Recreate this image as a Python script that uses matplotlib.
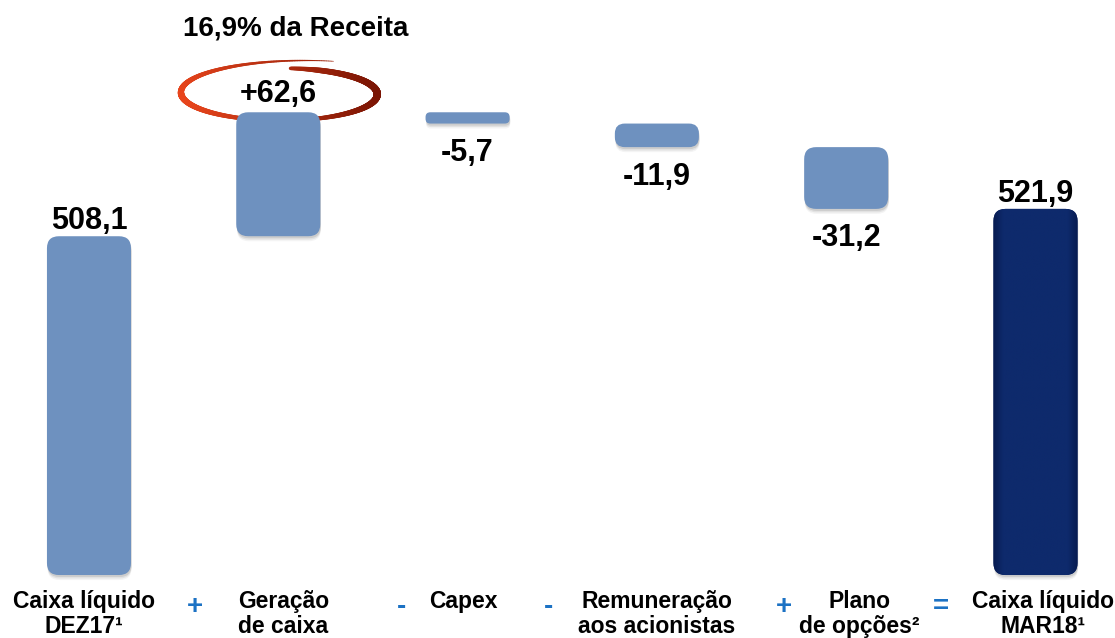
import numpy as np
import matplotlib
matplotlib.use("Agg")
import matplotlib.pyplot as plt
from matplotlib.patches import FancyBboxPatch
from matplotlib.collections import LineCollection
from matplotlib import transforms as mtrans

# ---------------- data ----------------
categories = ["Caixa líquido\nDEZ17¹", "Geração\nde caixa", "Capex",
              "Remuneração\naos acionistas", "Plano\nde opções²", "Caixa líquido\nMAR18¹"]
values = [508.1, 62.6, -5.7, -11.9, -31.2, 521.9]
value_labels = ["508,1", "+62,6", "-5,7", "-11,9", "-31,2", "521,9"]
kinds = ["total", "delta", "delta", "delta", "delta", "total"]
operators = ["+", "-", "-", "+", "="]
highlight_text = "16,9% da Receita"

# ---------------- layout / style ----------------
BASE = 337.0                      # broken value axis: bars start here
YLIM = (305.2, 627.4)
XLIM = (-0.47, 5.42)
BAR_W = 0.444
OP_X = [0.56, 1.65, 2.43, 3.67, 4.50]
LABEL_DX_PX = [-5, 5, -4, 0, 13, 8]
LIGHT = "#6E91BF"
DARK = "#0C2768"
OP_COLOR = "#1C72C4"
FONT = "Liberation Sans"

plt.rcParams["font.family"] = [FONT, "DejaVu Sans"]

W_IN, H_IN, DPI = 11.15, 6.38, 100
fig = plt.figure(figsize=(W_IN, H_IN), dpi=DPI)
ax = fig.add_axes([0, 0, 1, 1])
ax.set_xlim(*XLIM)
ax.set_ylim(*YLIM)
ax.axis("off")

# data units per pixel
inv = ax.transData.inverted()
(x0, y0), (x1, y1) = inv.transform([(0, 0), (1, 1)])
dxp, dyp = x1 - x0, y1 - y0
aspect = dyp / dxp

# compute waterfall geometry
bottoms, heights = [], []
cum = 0.0
for v, k in zip(values, kinds):
    if k == "total":
        bottoms.append(BASE)
        heights.append(v - BASE)
        cum = v
    else:
        bottoms.append(min(cum, cum + v))
        heights.append(abs(v))
        cum += v


def rounded(x, bottom, height, r_px, **kw):
    r = r_px * dxp
    return FancyBboxPatch((x - BAR_W / 2, bottom), BAR_W, height,
                          boxstyle=f"round,pad=0,rounding_size={r}",
                          mutation_aspect=aspect, **kw)


patches = []
for i, (b, h, k) in enumerate(zip(bottoms, heights, kinds)):
    h_px = h / dyp
    r_px = min(12.0, 0.42 * h_px)
    # soft shadow
    for off, al in [(2, 0.18), (3.5, 0.12), (5, 0.07)]:
        tr = mtrans.offset_copy(ax.transData, fig=fig, x=0.6, y=-off, units="dots")
        sp = rounded(i, b, h, r_px, fc="#6a6a6a", ec="none", alpha=al,
                     transform=tr, zorder=2)
        ax.add_patch(sp)
    color = DARK if (k == "total" and i == len(values) - 1) else LIGHT
    p = rounded(i, b, h, r_px, fc=color, ec="none", zorder=3)
    ax.add_patch(p)
    patches.append(p)
    if color == DARK:
        # subtle bevel-like horizontal gradient
        n = 200
        t = np.linspace(0, 1, n)
        edge = np.array([0x07, 0x1B, 0x50]) / 255
        mid = np.array([0x0E, 0x2A, 0x6C]) / 255
        prof = np.clip(np.minimum(t, 1 - t) / 0.12, 0, 1)[:, None]
        row = edge + (mid - edge) * prof
        img = np.repeat(row[None, :, :], 4, axis=0)
        im = ax.imshow(img, extent=(i - BAR_W / 2, i + BAR_W / 2, b, b + h),
                       aspect="auto", zorder=4, interpolation="bilinear")
        im.set_clip_path(p)

ax.set_xlim(*XLIM)
ax.set_ylim(*YLIM)

# value labels
for i, (b, h, k, v, lab) in enumerate(zip(bottoms, heights, kinds, values, value_labels)):
    if k == "total":
        ax.annotate(lab, (i, b + h), xytext=(0, 5), textcoords="offset points",
                    ha="center", va="baseline", fontsize=22, fontweight="bold", zorder=6)
    elif v > 0:
        ax.annotate(lab, (i, b + h), xytext=(0, 7.5), textcoords="offset points",
                    ha="center", va="baseline", fontsize=22, fontweight="bold", zorder=6)
    else:
        ax.annotate(lab, (i, b), xytext=(0, -27), textcoords="offset points",
                    ha="center", va="baseline", fontsize=22, fontweight="bold", zorder=6)

# highlighted swoosh around the positive delta label
hi = kinds.index("delta")
cx, cy = ax.transData.transform((hi, bottoms[hi] + heights[hi]))
cx += 4
cy += 18
a_px, b_px = 95, 26
t = np.linspace(0, 1, 500)
theta = np.deg2rad(85 - 378 * t)
rr = 1 + 0.38 * t ** 5
px = cx + a_px * rr * np.cos(theta)
py = cy + b_px * rr * np.sin(theta)
pts = np.column_stack([px, py])
segs = np.stack([pts[:-1], pts[1:]], axis=1)
tm = 0.5 * (t[:-1] + t[1:])
wid_px = np.interp(tm, [0, 0.05, 0.22, 0.46, 0.70, 0.88, 1.0],
                   [3.5, 5.5, 7.5, 3.0, 6.5, 3.0, 0.6])
c_left = np.array([0xE8, 0x45, 0x1C]) / 255
c_right = np.array([0x7A, 0x14, 0x03]) / 255
xm = 0.5 * (np.cos(theta[:-1]) + np.cos(theta[1:]))
frac = (xm + 1) / 2
cols = c_left + (c_right - c_left) * frac[:, None]
lc = LineCollection(segs, linewidths=wid_px * 72 / DPI, colors=cols,
                    transform=mtrans.IdentityTransform(), zorder=2.5,
                    capstyle="round")
ax.add_collection(lc)

# title above highlighted bar
tb = mtrans.blended_transform_factory(ax.transData, ax.transAxes)
ax.text(hi + 0.094, 1 - 35 / 638, highlight_text, transform=tb, ha="center",
        va="baseline", fontsize=20, fontweight="bold", zorder=6)

# category labels
for i, c in enumerate(categories):
    ax.text(i + LABEL_DX_PX[i] * dxp, 1 - 590 / 638, c, transform=tb, ha="center",
            va="top", fontsize=16.5, fontweight="bold", linespacing=1.1, zorder=6)

# operators
for xo, op in zip(OP_X, operators):
    ax.text(xo, 1 - 614 / 638, op, transform=tb, ha="center", va="baseline",
            fontsize=20, fontweight="bold", color=OP_COLOR, zorder=6)

fig.savefig("out.png", dpi=DPI, facecolor="white")
